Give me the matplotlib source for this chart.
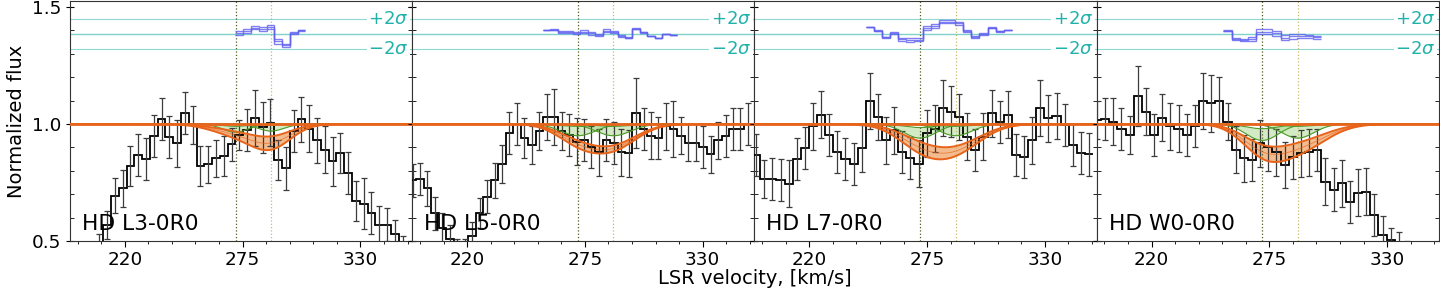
import numpy as np
import matplotlib
matplotlib.use('Agg')
import matplotlib.pyplot as plt
from matplotlib.ticker import MultipleLocator
import matplotlib.transforms as mtransforms

# ---- data -------------------------------------------------------------
labels = ['HD L3-0R0', 'HD L5-0R0', 'HD L7-0R0', 'HD W0-0R0']

# velocity grid of each spectrum: first bin edge and bin width (km/s)
v_start = [206.3, 192.8, 193.3, 192.6]
v_step = [3.63, 3.48, 3.79, 3.81]

flux_l3 = [0.45, 0.57, 0.694, 0.725, 0.822, 0.868, 0.85, 0.95, 1.02, 0.946, 0.917,
           1.046, 0.996, 0.822, 0.828, 0.853, 0.863, 0.913, 0.953, 0.974, 1.024,
           0.986, 1.006, 0.846, 0.81, 0.972, 1.02, 0.98, 0.93, 0.89, 0.84, 0.875,
           0.79, 0.67, 0.66, 0.62, 0.57, 0.57, 0.53, 0.47]
err_l3 = [0.08, 0.06, 0.075, 0.08, 0.085, 0.09, 0.09, 0.09, 0.09, 0.09, 0.1,
          0.09, 0.08, 0.085, 0.08, 0.08, 0.085, 0.07, 0.065, 0.09, 0.12,
          0.11, 0.1, 0.085, 0.09, 0.09, 0.095, 0.1, 0.095, 0.1, 0.105, 0.085,
          0.09, 0.085, 0.11, 0.09, 0.08, 0.07, 0.06, 0.05]

flux_l5 = [0.76, 0.765, 0.725, 0.618, 0.554, 0.51, 0.45, 0.45, 0.52, 0.62, 0.69,
           0.76, 0.83, 0.96, 1.00, 0.94, 0.91, 0.97, 1.03, 1.03, 0.97, 0.953,
           0.925, 0.93, 0.903, 0.88, 0.93, 0.92, 0.88, 0.875, 1.046, 0.98, 0.95,
           0.94, 0.99, 0.98, 0.95, 0.92, 0.92, 0.90, 0.87, 0.93, 0.95, 0.98,
           0.98, 1.00]
err_l5 = [0.07, 0.07, 0.075, 0.07, 0.065, 0.06, 0.06, 0.06, 0.06, 0.065, 0.07,
          0.075, 0.08, 0.09, 0.09, 0.085, 0.08, 0.08, 0.1, 0.12, 0.08, 0.09,
          0.1, 0.09, 0.09, 0.1, 0.09, 0.09, 0.1, 0.1, 0.15, 0.09, 0.1,
          0.09, 0.1, 0.12, 0.08, 0.08, 0.08, 0.09, 0.08, 0.08, 0.09, 0.09,
          0.09, 0.09]

flux_l7 = [0.868, 0.765, 0.765, 0.76, 0.745, 0.85, 0.896, 0.99, 1.04, 0.953, 0.88,
           0.85, 0.83, 0.896, 1.10, 1.03, 0.93, 0.974, 0.88, 0.853, 0.83, 0.96,
           0.98, 1.067, 1.053, 1.03, 0.946, 0.89, 0.946, 1.046, 1.01, 1.04, 0.868,
           0.86, 0.93, 1.07, 1.024, 1.034, 0.996, 0.91, 0.875, 0.87]
err_l7 = [0.09, 0.08, 0.09, 0.09, 0.1, 0.09, 0.09, 0.1, 0.1, 0.09, 0.09,
          0.09, 0.09, 0.1, 0.12, 0.1, 0.1, 0.1, 0.09, 0.09, 0.1, 0.1,
          0.1, 0.12, 0.11, 0.1, 0.1, 0.09, 0.1, 0.1, 0.09, 0.1, 0.09,
          0.09, 0.1, 0.12, 0.1, 0.1, 0.09, 0.09, 0.09, 0.09]

flux_w0 = [1.017, 1.02, 1.01, 0.977, 0.953, 1.12, 1.053, 0.953, 1.027, 0.99, 0.98,
           0.953, 0.99, 1.10, 1.088, 1.10, 1.01, 0.89, 0.853, 0.846, 0.917, 0.90,
           0.88, 0.825, 0.857, 0.875, 0.88, 0.89, 0.754, 0.72, 0.746, 0.668, 0.707,
           0.71, 0.61, 0.526, 0.504, 0.49, 0.45]
err_w0 = [0.08, 0.09, 0.1, 0.09, 0.08, 0.13, 0.1, 0.09, 0.1, 0.1, 0.1,
          0.09, 0.09, 0.12, 0.12, 0.1, 0.08, 0.1, 0.1, 0.09, 0.1, 0.1,
          0.1, 0.1, 0.09, 0.1, 0.1, 0.09, 0.1, 0.09, 0.1, 0.09, 0.1,
          0.1, 0.09, 0.08, 0.05, 0.05, 0.05]

fluxes = [flux_l3, flux_l5, flux_l7, flux_w0]
errors = [err_l3, err_l5, err_l7, err_w0]

# two absorption components (km/s)
comp_v = [271.7, 288.3]

# total model band: widths and depths of each component, per panel
model_sig = [[11.3, 9.5], [10.0, 11.0], [11.0, 12.0], [10.0, 13.0]]
model_deep = [[0.043, 0.095], [0.07, 0.10], [0.085, 0.11], [0.10, 0.11]]
model_shallow = [[0.022, 0.045], [0.045, 0.08], [0.045, 0.08], [0.06, 0.065]]

# individual component bands
comp_sig = [6.0, 8.0, 7.5, 7.5]
compA_band = [[0.035, 0.01], [0.05, 0.01], [0.06, 0.015], [0.07, 0.02]]
compB_band = [[0.03, 0.005], [0.05, 0.01], [0.05, 0.01], [0.06, 0.01]]

# velocity window of the residual plot
res_lo = [269.9, 256.9, 248.0, 255.3]
res_hi = [302.5, 316.7, 313.2, 298.0]
res_zero = 1.385
res_scale = 0.033   # per sigma

C_ORANGE = '#e8641b'
C_ORFILL = '#f2b07a'
C_GREEN = '#4c9a2a'
C_GRFILL = '#a9d98a'
C_TEAL = '#20b2aa'
C_BLUE = '#6060f0'


def dips(v, centers, sigmas, depths):
    out = np.ones_like(v)
    for c, s, d in zip(centers, sigmas, depths):
        out = out - d * np.exp(-(v - c) ** 2 / (2 * s ** 2))
    return out


fig, axes = plt.subplots(1, 4, figsize=(14.4, 2.88), dpi=100, sharey=True)
fig.subplots_adjust(left=0.0486, right=0.9993, bottom=0.1632, top=0.9965, wspace=0)

vgrid = np.linspace(194, 354, 500)

for i, ax in enumerate(axes):
    flux = np.array(fluxes[i])
    err = np.array(errors[i])
    edges = v_start[i] + v_step[i] * np.arange(len(flux) + 1)
    vc = edges[:-1] + v_step[i] / 2

    # model band
    deep = dips(vgrid, comp_v, model_sig[i], model_deep[i])
    shallow = dips(vgrid, comp_v, model_sig[i], model_shallow[i])
    ax.fill_between(vgrid, deep, shallow, color=C_ORFILL, alpha=0.85, lw=0, zorder=1)

    # components
    for band, c in zip([compA_band[i], compB_band[i]], comp_v):
        lo = dips(vgrid, [c], [comp_sig[i]], [band[0]])
        hi = dips(vgrid, [c], [comp_sig[i]], [band[1]])
        ax.fill_between(vgrid, lo, hi, color=C_GRFILL, alpha=0.5, lw=0, zorder=2)
        ax.plot(vgrid, lo, color=C_GREEN, lw=0.8, zorder=4)
        ax.plot(vgrid, hi, color=C_GREEN, lw=0.8, zorder=4)

    # data
    ax.stairs(flux, edges, baseline=None, color='k', lw=1.3, zorder=3)
    ax.errorbar(vc, flux, yerr=err, fmt='none', ecolor='#3c3c3c', elinewidth=0.9,
                capsize=2, capthick=0.9, zorder=3)

    ax.plot(vgrid, deep, color=C_ORANGE, lw=1.4, zorder=5)
    ax.plot(vgrid, shallow, color=C_ORANGE, lw=1.4, zorder=5)
    ax.plot(vgrid, (deep + shallow) / 2, color=C_ORANGE, lw=0.6, alpha=0.7, zorder=5)
    ax.axhline(1.0, color=C_ORANGE, lw=2, zorder=6)

    # component positions
    ax.axvline(comp_v[0], color='#4d5d20', lw=0.9, ls=':', zorder=2)
    ax.axvline(comp_v[1], color='#c8bb6a', lw=0.9, ls=':', zorder=2)

    # residuals
    trans = mtransforms.blended_transform_factory(ax.transAxes, ax.transData)
    ax.axhline(res_zero, color='#7dd3cb', lw=1, zorder=1)
    for sgn, txt in [(1, r'$+2\sigma$'), (-1, r'$-2\sigma$')]:
        ax.axhline(res_zero + sgn * 2 * res_scale, color='#8fd9d2', lw=0.8, zorder=1)
        ax.text(0.99, res_zero + sgn * 2 * res_scale, txt, transform=trans,
                ha='right', va='center', color=C_TEAL, fontsize=13, zorder=3,
                bbox=dict(facecolor='white', edgecolor='none', pad=1.0))
    sel = (vc >= res_lo[i]) & (vc <= res_hi[i])
    ridx = np.where(sel)[0]
    redges = edges[ridx[0]:ridx[-1] + 2]
    for model in [deep, shallow, (deep + shallow) / 2]:
        mod = np.interp(vc[sel], vgrid, model)
        res = res_zero + res_scale * (flux[sel] - mod) / err[sel]
        ax.stairs(res, redges, baseline=None, color=C_BLUE, lw=1.0, alpha=0.8, zorder=4)

    ax.text(0.035, 0.07, labels[i], transform=ax.transAxes, fontsize=15.7,
            ha='left', va='center', zorder=7)

    ax.set_xlim(194.4, 354.2)
    ax.set_ylim(0.5, 1.526)
    ax.xaxis.set_major_locator(MultipleLocator(55))
    ax.xaxis.set_minor_locator(MultipleLocator(11))
    ax.yaxis.set_major_locator(MultipleLocator(0.5))
    ax.yaxis.set_minor_locator(MultipleLocator(0.1))
    ax.tick_params(axis='x', which='major', direction='out', length=4, pad=3,
                   labelsize=13.2)
    ax.tick_params(axis='x', which='minor', direction='out', length=2.5)
    ax.tick_params(axis='y', which='major', direction='inout', length=6,
                   left=True, right=True, labelsize=13.2)
    ax.tick_params(axis='y', which='minor', direction='in', length=3,
                   left=True, right=True)
    for sp in ax.spines.values():
        sp.set_color('#333333')

axes[0].set_ylabel('Normalized flux', fontsize=14)
fig.text(0.524, 0.033, 'LSR velocity, [km/s]', ha='center', va='center', fontsize=14)

fig.savefig('out.png', dpi=100)
